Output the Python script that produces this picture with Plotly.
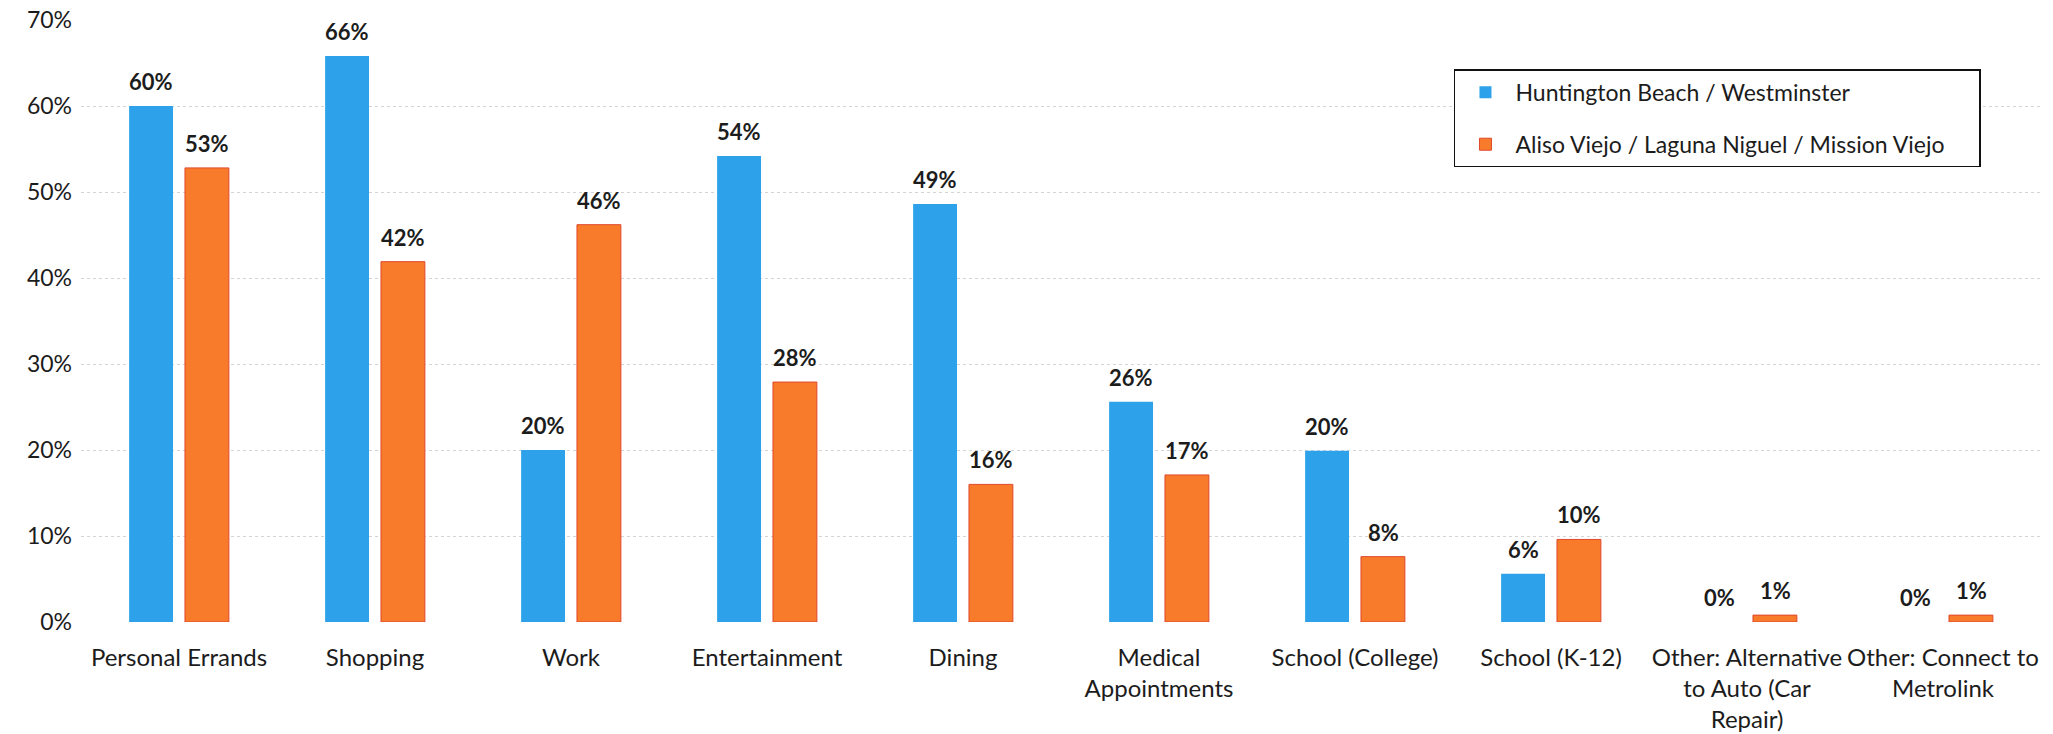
import plotly.graph_objects as go

# Trip purposes and share of respondents per study area (%)
categories = [
    "Personal Errands",
    "Shopping",
    "Work",
    "Entertainment",
    "Dining",
    "Medical<br>Appointments",
    "School (College)",
    "School (K-12)",
    "Other: Alternative<br>to Auto (Car<br>Repair)",
    "Other: Connect to<br>Metrolink",
]
series_names = [
    "Huntington Beach / Westminster",
    "Aliso Viejo / Laguna Niguel / Mission Viejo",
]
huntington = [60.0, 65.8, 20.0, 54.2, 48.6, 25.6, 19.9, 5.6, 0.0, 0.0]
aliso = [52.8, 41.9, 46.2, 27.9, 16.0, 17.1, 7.6, 9.6, 0.8, 0.8]
y_ticks = [0, 10, 20, 30, 40, 50, 60, 70]

BLUE = "#2DA2EA"
ORANGE = "#F87B2B"
FONT = "Lato, 'Open Sans', sans-serif"
TEXT = "#1c1c1c"
PAD = "&nbsp;" * 5

fig = go.Figure()
fig.add_trace(go.Bar(
    x=categories, y=huntington, name=series_names[0] + PAD,
    marker=dict(color=BLUE, line=dict(width=0)),
    legendgroup="a",
))
fig.add_trace(go.Bar(
    x=categories, y=aliso, name=series_names[1] + PAD,
    marker=dict(color=ORANGE, line=dict(color="#E0482C", width=1)),
    legendgroup="b",
))

# value labels above each bar
slot_px = 28
for i, cat in enumerate(categories):
    for vals, shift in ((huntington, -slot_px), (aliso, slot_px)):
        v = vals[i]
        fig.add_annotation(
            x=cat, y=v, xref="x", yref="y",
            text=f"<b>{round(v):.0f}%</b>",
            showarrow=False, xanchor="center", yanchor="bottom",
            xshift=shift, yshift=9,
            font=dict(family=FONT, size=22, color=TEXT),
        )

fig.update_layout(
    width=2053, height=734,
    margin=dict(l=81, r=12, t=20, b=112),
    paper_bgcolor="white", plot_bgcolor="white",
    barmode="group", bargap=0.43, bargroupgap=0.214,
    font=dict(family=FONT, size=23, color=TEXT),
    legend=dict(
        x=0.7005, y=0.918, xanchor="left", yanchor="top",
        bordercolor="#111111", borderwidth=1.5, bgcolor="white",
        font=dict(family=FONT, size=23, color=TEXT),
        traceorder="grouped", tracegroupgap=19,
        itemwidth=50,
    ),
    showlegend=True,
)
fig.update_xaxes(
    showgrid=False, showline=False, zeroline=False,
    tickfont=dict(family=FONT, size=24, color=TEXT),
    ticks="", ticklabelstandoff=19, automargin=False,
)
fig.update_yaxes(
    range=[0, 70], tickvals=y_ticks, ticktext=[f"{t}%" for t in y_ticks],
    showgrid=True, gridcolor="#d4d4d4", griddash="dot", gridwidth=1,
    zeroline=False, showline=False,
    tickfont=dict(family=FONT, size=23, color=TEXT),
    ticks="", ticklabelstandoff=8, automargin=False,
)

fig.write_html("out.html")
